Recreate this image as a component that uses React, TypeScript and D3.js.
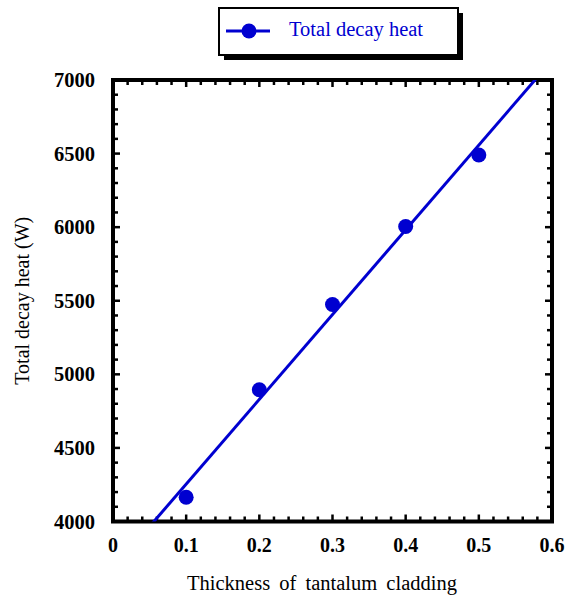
import React, { useEffect, useRef } from "react";
import * as d3 from "d3";

// thickness vs total decay heat (W)
const thickness = [0.1, 0.2, 0.3, 0.4, 0.5];
const decayHeat = [4165, 4895, 5475, 6005, 6490];
const xTicks = [0, 0.1, 0.2, 0.3, 0.4, 0.5, 0.6];
const yTicks = [4000, 4500, 5000, 5500, 6000, 6500, 7000];
const seriesName = "Total decay heat";

const BLUE = "#0000d0";
const FONT = "'Liberation Serif', 'Times New Roman', serif";

const App = () => {
  const svgRef = useRef<SVGSVGElement>(null);

  useEffect(() => {
    const w = 574;
    const h = 596;
    const m = { left: 113, right: 552, top: 80, bottom: 521.5 };
    const svg = d3.select(svgRef.current).attr("width", w).attr("height", h);
    svg.selectAll("*").remove();

    const x = d3.scaleLinear().domain([0, 0.6]).range([m.left, m.right]);
    const y = d3.scaleLinear().domain([4000, 7000]).range([m.bottom, m.top]);

    // clip for fit line
    svg
      .append("clipPath")
      .attr("id", "plotclip")
      .append("rect")
      .attr("x", m.left)
      .attr("y", m.top)
      .attr("width", m.right - m.left)
      .attr("height", m.bottom - m.top);

    // minor / major ticks, drawn inward on all 4 sides
    const minorX = d3.range(0, 0.6001, 0.02);
    const minorY = d3.range(4000, 7001, 100);
    const tickG = svg.append("g").attr("stroke", "black").attr("stroke-width", 2.5);
    minorX.forEach((v) => {
      const major = Math.abs(v * 10 - Math.round(v * 10)) < 1e-6;
      const len = major ? 7 : 5;
      tickG.append("line").attr("x1", x(v)).attr("x2", x(v)).attr("y1", m.bottom).attr("y2", m.bottom - len);
      tickG.append("line").attr("x1", x(v)).attr("x2", x(v)).attr("y1", m.top).attr("y2", m.top + len);
    });
    minorY.forEach((v) => {
      const major = v % 500 === 0;
      const len = major ? 7 : 5;
      tickG.append("line").attr("x1", m.left).attr("x2", m.left + len).attr("y1", y(v)).attr("y2", y(v));
      tickG.append("line").attr("x1", m.right).attr("x2", m.right - len).attr("y1", y(v)).attr("y2", y(v));
    });

    // frame
    svg
      .append("rect")
      .attr("x", m.left)
      .attr("y", m.top)
      .attr("width", m.right - m.left)
      .attr("height", m.bottom - m.top)
      .attr("fill", "none")
      .attr("stroke", "black")
      .attr("stroke-width", 4);

    // tick labels
    svg
      .append("g")
      .selectAll("text")
      .data(xTicks)
      .join("text")
      .attr("x", (d) => x(d))
      .attr("y", 552)
      .attr("text-anchor", "middle")
      .attr("font-family", FONT)
      .attr("font-weight", "bold")
      .attr("font-size", 20)
      .text((d) => (d === 0 ? "0" : d3.format(".1f")(d)));

    svg
      .append("g")
      .selectAll("text")
      .data(yTicks)
      .join("text")
      .attr("x", 95)
      .attr("y", (d) => y(d) + 7)
      .attr("text-anchor", "end")
      .attr("font-family", FONT)
      .attr("font-weight", "bold")
      .attr("font-size", 20.5)
      .text((d) => d);

    // axis titles
    svg
      .append("text")
      .attr("x", 322)
      .attr("y", 590)
      .attr("text-anchor", "middle")
      .attr("font-family", FONT)
      .attr("font-size", 20.5)
      .attr("word-spacing", 4)
      .text("Thickness of tantalum cladding");

    svg
      .append("text")
      .attr("transform", `translate(29, ${(m.top + m.bottom) / 2}) rotate(-90)`)
      .attr("text-anchor", "middle")
      .attr("font-family", FONT)
      .attr("font-size", 20)
      .text("Total decay heat (W)");

    // least squares fit line
    const xm = d3.mean(thickness) as number;
    const ym = d3.mean(decayHeat) as number;
    const slope =
      d3.sum(thickness, (t, i) => (t - xm) * (decayHeat[i] - ym)) /
      d3.sum(thickness, (t) => (t - xm) * (t - xm));
    const icpt = ym - slope * xm;
    const fit = d3
      .line<number>()
      .x((d) => x(d))
      .y((d) => y(icpt + slope * d));
    svg
      .append("path")
      .attr("clip-path", "url(#plotclip)")
      .attr("d", fit([0, 0.6]))
      .attr("fill", "none")
      .attr("stroke", BLUE)
      .attr("stroke-width", 3);

    // points
    svg
      .append("g")
      .selectAll("circle")
      .data(thickness)
      .join("circle")
      .attr("cx", (d) => x(d))
      .attr("cy", (d, i) => y(decayHeat[i]))
      .attr("r", 7.5)
      .attr("fill", BLUE);

    // legend
    const lg = svg.append("g");
    lg.append("rect").attr("x", 224).attr("y", 13).attr("width", 239).attr("height", 47).attr("fill", "black");
    lg
      .append("rect")
      .attr("x", 219)
      .attr("y", 8)
      .attr("width", 239)
      .attr("height", 47)
      .attr("fill", "white")
      .attr("stroke", "black")
      .attr("stroke-width", 2);
    lg.append("line").attr("x1", 226).attr("x2", 270).attr("y1", 31).attr("y2", 31).attr("stroke", BLUE).attr("stroke-width", 3);
    lg.append("circle").attr("cx", 249).attr("cy", 31).attr("r", 7.5).attr("fill", BLUE);
    lg
      .append("text")
      .attr("x", 289)
      .attr("y", 36)
      .attr("font-family", FONT)
      .attr("font-size", 20.5)
      .attr("fill", BLUE)
      .text(seriesName);
  }, []);

  return (
    <div style={{ position: "absolute", left: 0, top: 0 }}>
      <svg ref={svgRef}></svg>
    </div>
  );
};

export default App;
